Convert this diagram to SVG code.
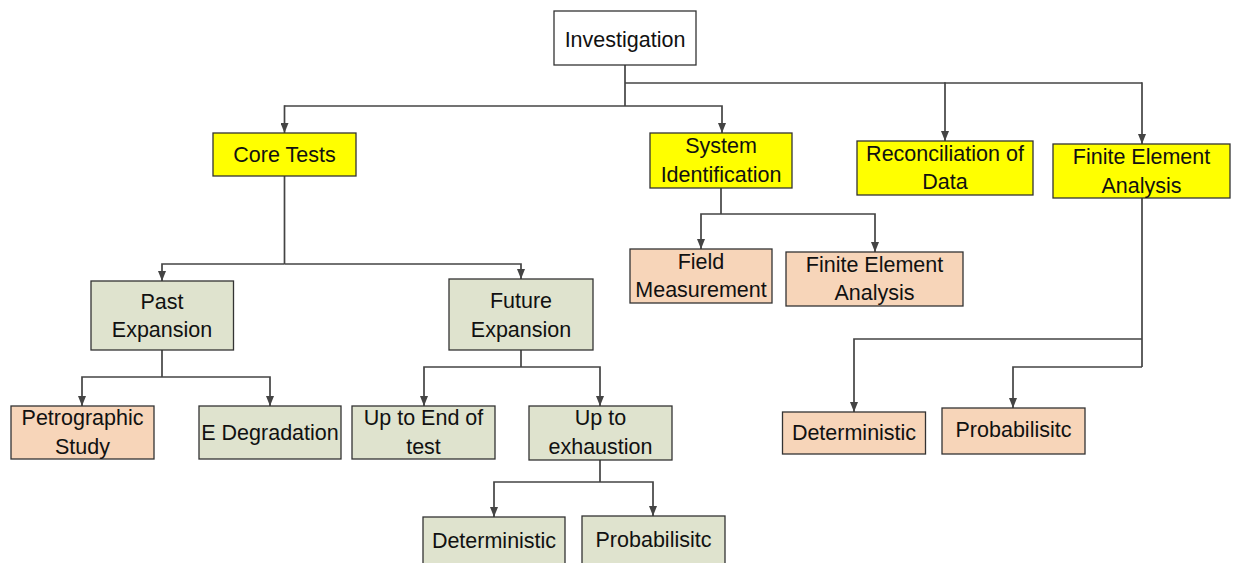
<svg xmlns="http://www.w3.org/2000/svg" width="1233" height="563" viewBox="0 0 1233 563">
<defs>
<marker id="ah" viewBox="0 0 10 8" refX="10" refY="4" markerWidth="10" markerHeight="8" markerUnits="userSpaceOnUse" orient="auto">
<path d="M0,0 L10,4 L0,8 Z" fill="#444"/>
</marker>
<style>
rect{stroke:#333;stroke-width:1.3}
.w{fill:#fff}
.y{fill:#ffff00}
.g{fill:#dfe3ce}
.o{fill:#f7d5b9}
text{font-family:"Liberation Sans",Arial,sans-serif;font-size:21.5px;fill:#111;text-anchor:middle}
.c path{fill:none;stroke:#444;stroke-width:1.7}
.c path.a{marker-end:url(#ah)}
</style>
</defs>
<rect width="1233" height="563" fill="#fff" style="stroke:none"/>
<g class="c" id="connectors">
<path d="M625,65 V106"/>
<path d="M625,106 H284.5"/>
<path class="a" d="M284.5,105.2 V133"/>
<path class="a" d="M625,106 H722 V133"/>
<path d="M625,83 H1142"/>
<path class="a" d="M945,82.2 V141"/>
<path class="a" d="M1142,82.2 V144"/>
<path d="M284.5,176 V264"/>
<path class="a" d="M284.5,264 H162 V281"/>
<path class="a" d="M284.5,264 H521 V279"/>
<path d="M721,188 V214"/>
<path class="a" d="M721,214 H701 V249"/>
<path class="a" d="M721,214 H875 V252"/>
<path d="M1142,198 V367"/>
<path class="a" d="M1142,339 H854 V412"/>
<path class="a" d="M1142,367 H1013 V408"/>
<path d="M162,350 V377"/>
<path class="a" d="M162,377 H82 V406"/>
<path class="a" d="M162,377 H270 V406"/>
<path d="M521,350 V367"/>
<path class="a" d="M521,367 H424 V406"/>
<path class="a" d="M521,367 H600 V406"/>
<path d="M600,460 V482"/>
<path class="a" d="M600,482 H494 V517"/>
<path class="a" d="M600,482 H653 V516"/>
</g>
<g id="investigation"><rect class="w" x="554" y="11" width="142" height="54"/><text x="625" y="47">Investigation</text></g>
<g id="core-tests"><rect class="y" x="213" y="133" width="143" height="43"/><text x="284.5" y="162">Core Tests</text></g>
<g id="system-identification"><rect class="y" x="650" y="133" width="142" height="55"/><text x="721" y="153">System</text><text x="721" y="181.5">Identification</text></g>
<g id="reconciliation"><rect class="y" x="857" y="141" width="176" height="54"/><text x="945" y="160.5">Reconciliation of</text><text x="945" y="189">Data</text></g>
<g id="fea-main"><rect class="y" x="1053" y="144" width="177" height="54"/><text x="1141.5" y="164">Finite Element</text><text x="1141.5" y="192.5">Analysis</text></g>
<g id="past-expansion"><rect class="g" x="91" y="281" width="142.5" height="69"/><text x="162" y="308.5">Past</text><text x="162" y="337">Expansion</text></g>
<g id="future-expansion"><rect class="g" x="449" y="279" width="144" height="71"/><text x="521" y="308">Future</text><text x="521" y="336.5">Expansion</text></g>
<g id="field-measurement"><rect class="o" x="630" y="249" width="142" height="54"/><text x="701" y="268.5">Field</text><text x="701" y="297">Measurement</text></g>
<g id="fea-sysid"><rect class="o" x="786" y="252" width="177" height="54"/><text x="874.5" y="271.5">Finite Element</text><text x="874.5" y="300">Analysis</text></g>
<g id="petrographic"><rect class="o" x="11" y="406" width="143" height="53"/><text x="82.5" y="425">Petrographic</text><text x="82.5" y="453.5">Study</text></g>
<g id="e-degradation"><rect class="g" x="199" y="406" width="142" height="53"/><text x="270" y="439.5">E Degradation</text></g>
<g id="up-to-end"><rect class="g" x="352" y="406" width="143" height="53"/><text x="423.5" y="425">Up to End of</text><text x="423.5" y="453.5">test</text></g>
<g id="up-to-exhaustion"><rect class="g" x="529" y="406" width="143" height="54"/><text x="600.5" y="425">Up to</text><text x="600.5" y="453.5">exhaustion</text></g>
<g id="deterministic-green"><rect class="g" x="423" y="517" width="142" height="52"/><text x="494" y="547.5">Deterministic</text></g>
<g id="probabilistic-green"><rect class="g" x="582" y="516" width="143" height="52"/><text x="653.5" y="547">Probabilisitc</text></g>
<g id="deterministic-orange"><rect class="o" x="782.5" y="412" width="143" height="42"/><text x="854" y="440">Deterministic</text></g>
<g id="probabilistic-orange"><rect class="o" x="942" y="408" width="143" height="46"/><text x="1013.5" y="437">Probabilisitc</text></g>
</svg>
